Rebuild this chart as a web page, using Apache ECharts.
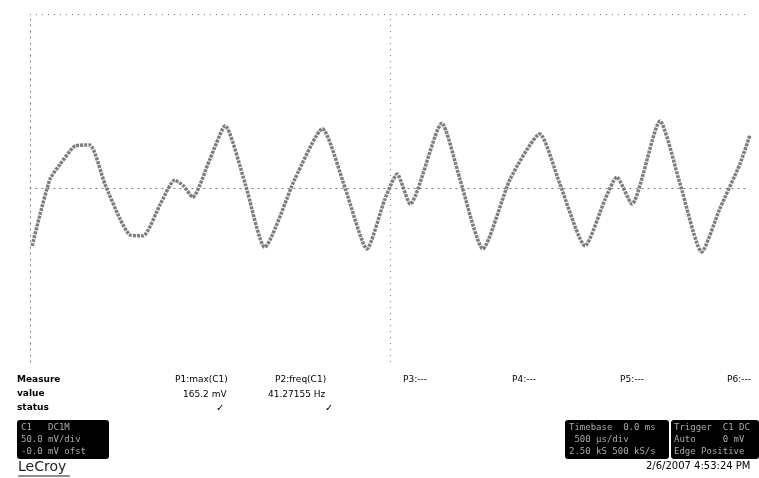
<!DOCTYPE html>
<html>
<head>
<meta charset="utf-8">
<script src="https://cdn.jsdelivr.net/npm/echarts@6/dist/echarts.min.js"></script>
<style>html,body{margin:0;padding:0;background:#fff;}#c{width:759px;height:478px;}</style>
</head>
<body>
<div id="c"></div>
<script>
// Time in divisions, amplitude in divisions
const timeDiv = [0.03,0.14,0.28,0.42,0.63,0.83,1.04,1.25,1.39,1.57,1.81,2.01,2.13,2.26,2.50,2.71,2.99,3.26,3.68,4.06,4.38,4.68,4.93,5.10,5.28,5.72,5.97,6.29,6.67,7.08,7.36,7.71,7.99,8.15,8.36,8.75,9.03,9.33,9.58,9.86,10.0];
const ampDiv  = [-1.33,-0.60,0.21,0.55,0.97,0.99,0.09,-0.71,-1.08,-1.10,-0.37,0.18,0.05,-0.21,0.67,1.43,0.09,-1.36,0.21,1.36,-0.02,-1.40,-0.25,0.32,-0.37,1.49,0.21,-1.40,0.21,1.24,0.09,-1.33,-0.25,0.25,-0.37,1.54,0.09,-1.47,-0.48,0.55,1.22];
const measLabels = ["Measure","value","status"];
const paramNames = ["P1:max(C1)","P2:freq(C1)","P3:---","P4:---","P5:---","P6:---"];
const paramValues = ["165.2 mV","41.27155 Hz"];
const paramStatus = ["\u2713","\u2713"];
const timestamp = "2/6/2007 4:53:24 PM";

const chart = echarts.init(document.getElementById('c'));
const dotLine = {color:'#777', type:[1,5], width:1};
const txt = (x,y,s,o) => Object.assign({type:'text', left:x, top:y, style:Object.assign({text:s, fill:'#000', font:'10px "DejaVu Sans"'}, o||{})});
const graphics = [];
measLabels.forEach((m,i)=>graphics.push(txt(17,375+i*14,m,{font:'bold 9px "DejaVu Sans"'})));
graphics.push(txt(175,375,paramNames[0],{font:'9px "DejaVu Sans"'}));
graphics.push(txt(275,375,paramNames[1],{font:'9px "DejaVu Sans"'}));
graphics.push(txt(403,375,paramNames[2],{font:'9px "DejaVu Sans"'}));
graphics.push(txt(512,375,paramNames[3],{font:'9px "DejaVu Sans"'}));
graphics.push(txt(620,375,paramNames[4],{font:'9px "DejaVu Sans"'}));
graphics.push(txt(727,375,paramNames[5],{font:'9px "DejaVu Sans"'}));
graphics.push(txt(183,390,paramValues[0],{font:'9px "DejaVu Sans"'}));
graphics.push(txt(268,390,paramValues[1],{font:'9px "DejaVu Sans"'}));
graphics.push(txt(216,403,paramStatus[0],{font:'bold 10px "DejaVu Sans"'}));
graphics.push(txt(325,403,paramStatus[1],{font:'bold 10px "DejaVu Sans"'}));
// channel box
graphics.push({type:'rect', left:17, top:420, shape:{width:92,height:39,r:3}, style:{fill:'#000'}});
graphics.push(txt(21,422,'C1   DC1M\n50.0 mV/div\n-0.0 mV ofst',{fill:'#aaa', font:'9px "DejaVu Sans Mono"', lineHeight:12}));
// timebase / trigger boxes
graphics.push({type:'rect', left:565, top:420, shape:{width:104,height:39,r:3}, style:{fill:'#000'}});
graphics.push(txt(569,422,'Timebase  0.0 ms\n 500 \u00b5s/div\n2.50 kS 500 kS/s',{fill:'#aaa', font:'9px "DejaVu Sans Mono"', lineHeight:12}));
graphics.push({type:'rect', left:671, top:420, shape:{width:88,height:39,r:3}, style:{fill:'#000'}});
graphics.push(txt(674,422,'Trigger  C1 DC\nAuto     0 mV\nEdge Positive',{fill:'#aaa', font:'9px "DejaVu Sans Mono"', lineHeight:12}));
graphics.push(txt(18,460,'LeCroy',{font:'14px "DejaVu Sans"', fill:'#222'}));
graphics.push({type:'line', shape:{x1:18,y1:476,x2:70,y2:476}, style:{stroke:'#222', lineWidth:1}});
graphics.push(txt(646,461,timestamp,{font:'10px "DejaVu Sans"'}));

chart.setOption({
  animation:false,
  grid:{left:30, top:14, width:720, height:348},
  xAxis:{type:'value', min:0, max:10, interval:1, axisLabel:{show:false}, axisTick:{show:false}, splitLine:{show:false}, axisLine:{lineStyle:dotLine}},
  yAxis:{type:'value', min:-4, max:4, interval:1, axisLabel:{show:false}, axisTick:{show:false}, splitLine:{show:false}, axisLine:{show:true, lineStyle:dotLine}},
  graphic:graphics,
  series:[{
    type:'line', smooth:0.2, showSymbol:false,
    data: timeDiv.map((t,i)=>[t, ampDiv[i]]),
    lineStyle:{color:'#666', width:3.5, type:[3,1], opacity:0.85},
    markLine:{silent:true, symbol:'none', label:{show:false}, lineStyle:dotLine,
      data:[{xAxis:5},{yAxis:0},{yAxis:4}]}
  }]
});
</script>
</body>
</html>
